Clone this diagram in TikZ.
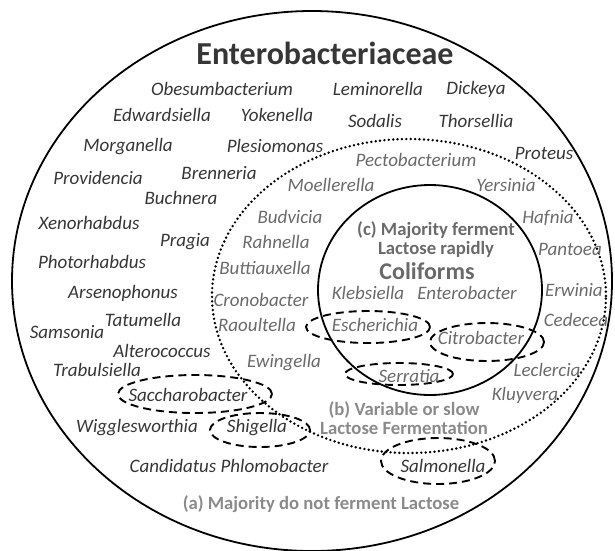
\documentclass[tikz,border=0pt]{standalone}
\usepackage{fontspec}
\setmainfont{Carlito}
\usetikzlibrary{positioning}
\definecolor{darktext}{HTML}{363636}
\definecolor{midtext}{HTML}{6A6A6A}
\definecolor{notetext}{HTML}{8A8A8A}
\begin{document}
\begin{tikzpicture}[x=1pt, y=-1pt,
    every node/.style={inner sep=0pt},
    outer/.style={font=\fontsize{19}{21}\selectfont\itshape, text=darktext},
    mid/.style={font=\fontsize{19}{21}\selectfont\itshape, text=midtext},
    note/.style={font=\fontsize{18.7}{20}\selectfont\bfseries, text=notetext, align=center},
    ring/.style={line width=1.8pt},
    dotring/.style={line width=2.7pt, line cap=round, dash pattern=on 0pt off 4.4pt},
    group/.style={line width=1.9pt, dash pattern=on 8pt off 5pt}]
    \useasboundingbox (0,0) rectangle (615,550);
    % families, groups and the coliforms
    \draw[ring] (312,281) ellipse [x radius=300pt, y radius=270pt];
    \draw[dotring] (409,296) ellipse [x radius=197pt, y radius=157pt];
    \draw[ring] (430,290) ellipse [x radius=112pt, y radius=105pt];
    \draw[group] (368,327) ellipse [x radius=62pt, y radius=16pt];
    \draw[group] (487,342) ellipse [x radius=57pt, y radius=19pt];
    \draw[group] (399,374) ellipse [x radius=54pt, y radius=11pt];
    \draw[group] (195,394) ellipse [x radius=77pt, y radius=19pt];
    \draw[group] (260,430) ellipse [x radius=50pt, y radius=17pt];
    \draw[group] (438,461) ellipse [x radius=57pt, y radius=23pt];

    \node (title) at (325,53) {\fontsize{32}{36}\selectfont\bfseries\color{darktext}Enterobacteriaceae};

    % (a) outer ring
    \node[outer] (obes) at (222,89) {Obesumbacterium};
    \node[outer] (lemi) at (378,89) {Leminorella};
    \node[outer] (dick) at (476,89) {Dickeya};
    \node[outer] (edwa) at (162,115) {Edwardsiella};
    \node[outer] (yoke) at (277,115) {Yokenella};
    \node[outer] (soda) at (375,121) {Sodalis};
    \node[outer] (thor) at (476,121) {Thorsellia};
    \node[outer] (morg) at (128,147) {Morganella};
    \node[outer] (ples) at (275,146) {Plesiomonas};
    \node[outer] (prot) at (544,153) {Proteus};
    \node[outer] (bren) at (219,173) {Brenneria};
    \node[outer] (prov) at (98,178) {Providencia};
    \node[outer] (buch) at (181,198) {Buchnera};
    \node[outer] (xeno) at (89,223) {Xenorhabdus};
    \node[outer] (prag) at (185,242) {Pragia};
    \node[outer] (phot) at (92,262) {Photorhabdus};
    \node[outer] (arse) at (123,293) {Arsenophonus};
    \node[outer] (tatu) at (143,320) {Tatumella};
    \node[outer] (sams) at (67,332) {Samsonia};
    \node[outer] (alte) at (162,351) {Alterococcus};
    \node[outer] (trab) at (97,370) {Trabulsiella};
    \node[outer] (sacc) at (188,395) {Saccharobacter};
    \node[outer] (wigg) at (137,428) {Wigglesworthia};
    \node[outer] (shig) at (257,428) {Shigella};
    \node[outer] (cand) at (229,466) {Candidatus Phlomobacter};
    \node[outer] (salm) at (443,466) {Salmonella};
    \node[note] (nota) at (321,504) {(a) Majority do not ferment Lactose};

    % (b) dotted ring
    \node[mid] (pect) at (416,160) {Pectobacterium};
    \node[mid] (moel) at (331,185) {Moellerella};
    \node[mid] (yers) at (506,185) {Yersinia};
    \node[mid] (budv) at (290,217) {Budvicia};
    \node[mid] (hafn) at (548,218) {Hafnia};
    \node[mid] (rahn) at (276,242) {Rahnella};
    \node[mid] (pant) at (570,249) {Pantoea};
    \node[mid] (butt) at (265,268) {Buttiauxella};
    \node[mid] (erwi) at (574,290) {Erwinia};
    \node[mid] (cron) at (261,300) {Cronobacter};
    \node[mid] (raou) at (257,325) {Raoultella};
    \node[mid] (cede) at (576,320) {Cedecea};
    \node[mid] (ewin) at (284,363) {Ewingella};
    \node[mid] (lecl) at (547,370) {Leclercia};
    \node[mid] (serr) at (409,376) {Serratia};
    \node[mid] (kluy) at (525,395) {Kluyvera};
    \node[note] (notb) at (404,418) {(b) Variable or slow\\[-1pt]Lactose Fermentation};

    % (c) coliforms
    \node[note, text=midtext] (notc) at (436,240) {(c) Majority ferment\\[-1pt]Lactose rapidly};
    \node (coli) at (427,271) {\fontsize{24}{28}\selectfont\bfseries\color{midtext}Coliforms};
    \node[mid] (kleb) at (368,293) {Klebsiella};
    \node[mid] (ente) at (467,293) {Enterobacter};
    \node[mid] (esch) at (375,325) {Escherichia};
    \node[mid] (citr) at (481,338) {Citrobacter};
\end{tikzpicture}
\end{document}
